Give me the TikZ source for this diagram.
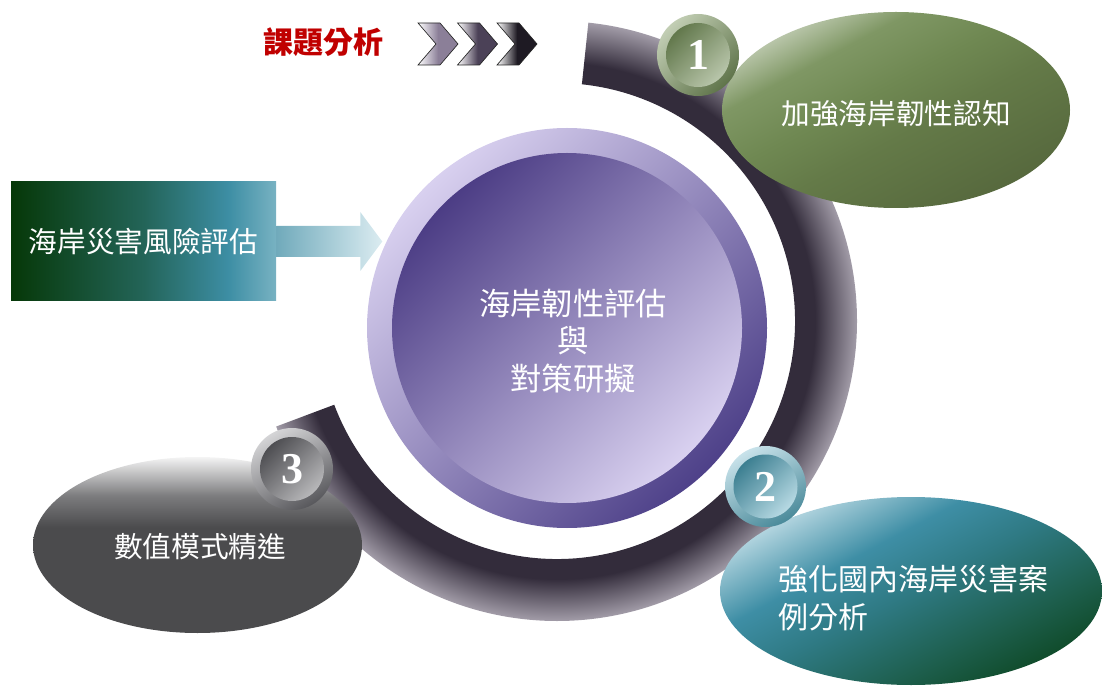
\documentclass[tikz,border=0pt]{standalone}
\usepackage{fontspec}
\newfontfamily\cjk{Noto Sans CJK TC}
\newfontfamily\numfont{Liberation Serif}
\usetikzlibrary{calc}
\definecolor{ringdark}{HTML}{332C3B}
\definecolor{ringlight}{HTML}{A29CA8}
\definecolor{pOl}{HTML}{D8D0EF}
\definecolor{pOd}{HTML}{4E4189}
\definecolor{pId}{HTML}{4C3D85}
\definecolor{pIl}{HTML}{D9D1F0}
\definecolor{c1l}{HTML}{C2CEB4}
\definecolor{c1d}{HTML}{5F744A}
\definecolor{c1id}{HTML}{62784C}
\definecolor{c1il}{HTML}{B9C6AB}
\definecolor{c2l}{HTML}{C8E2EA}
\definecolor{c2d}{HTML}{4A8A9A}
\definecolor{c2id}{HTML}{3C7F91}
\definecolor{c2il}{HTML}{B8DAE4}
\definecolor{c3l}{HTML}{D4D4D6}
\definecolor{c3d}{HTML}{58585C}
\definecolor{c3id}{HTML}{4E4E52}
\definecolor{c3il}{HTML}{B8B8BA}
\definecolor{glight}{HTML}{CDD6C2}
\definecolor{gup}{HTML}{7F9764}
\definecolor{gmid}{HTML}{6F8852}
\definecolor{glow}{HTML}{647A48}
\definecolor{gdark}{HTML}{56683D}
\definecolor{tlight}{HTML}{CCE4EC}
\definecolor{tband}{HTML}{3E8EA5}
\definecolor{tmid}{HTML}{2F7A84}
\definecolor{tlow}{HTML}{1D5E4C}
\definecolor{tdark}{HTML}{0F4A28}
\definecolor{gy1}{HTML}{F4F4F4}
\definecolor{gy2}{HTML}{7C7C7E}
\definecolor{gy3}{HTML}{4B4B4D}
\definecolor{bx1}{HTML}{063808}
\definecolor{bx2}{HTML}{236458}
\definecolor{bx3}{HTML}{3D8EA4}
\definecolor{bx4}{HTML}{78B2C2}
\definecolor{ar1}{HTML}{70AABB}
\definecolor{ar2}{HTML}{DBECF1}
\definecolor{cv1}{HTML}{8B7F98}
\definecolor{cv2}{HTML}{4B4157}
\definecolor{cv3}{HTML}{1E1A23}
\definecolor{titlered}{HTML}{C00000}
\pgfdeclareradialshading{ringshade}{\pgfpoint{0bp}{0bp}}{color(0bp)=(ringdark); color(21.5bp)=(ringdark); color(25bp)=(ringlight); color(50bp)=(ringlight)}
\pgfdeclarehorizontalshading{boxshade}{100bp}{color(0bp)=(bx1); color(25bp)=(bx1); color(50bp)=(bx2); color(66bp)=(bx3); color(75bp)=(bx4); color(100bp)=(bx4)}
\pgfdeclareverticalshading{greenshade}{100bp}{color(0bp)=(gdark); color(25bp)=(gdark); color(45bp)=(glow); color(55bp)=(gmid); color(66bp)=(gup); color(77bp)=(glight); color(100bp)=(glight)}
\pgfdeclareverticalshading{tealshade}{100bp}{color(0bp)=(tdark); color(25bp)=(tdark); color(35bp)=(tlow); color(50bp)=(tmid); color(61bp)=(tband); color(77bp)=(tlight); color(100bp)=(tlight)}
\pgfdeclareverticalshading{greyshade}{100bp}{color(0bp)=(gy3); color(25bp)=(gy3); color(55bp)=(gy3); color(64bp)=(gy2); color(75bp)=(gy1); color(100bp)=(gy1)}
\tikzset{
  wtext/.style={text=white, inner sep=0pt, font=\cjk\fontsize{21.5}{26}\selectfont},
  numtext/.style={text=white, inner sep=0pt, font=\numfont\bfseries\fontsize{33}{36}\selectfont},
  chev/.style={draw=black!85, line width=0.5pt, left color=white, right color=#1, middle color=#1},
}
\begin{document}
\begin{tikzpicture}[x=0.75pt,y=0.75pt]
\path[use as bounding box] (0,0) rectangle (1102,686);
\coordinate (rc) at (557,365);
\coordinate (pc) at (567,358);
% dark ring arc
\begin{scope}
\clip (rc) ++(84:300) arc[start angle=84,end angle=-159.4,radius=300]
  -- ($(rc)+(-159.4:238)$) arc[start angle=-159.4,end angle=84,radius=238] -- cycle;
\shade[shading=ringshade] (rc) circle (300);
\end{scope}
% central disc
\shade[top color=pOl, bottom color=pOd, shading angle=45] (pc) circle (200);
\shade[top color=pId, bottom color=pIl, shading angle=45] (pc) circle (175);
\node[wtext, font=\cjk\fontsize{23.5}{29}\selectfont, align=center] (core) at (573,345) {海岸韌性評估\\[-1pt]與\\[-1pt]對策研擬};
% ellipses
\shade[shading=greenshade, shading angle=28] (896,576) ellipse[x radius=174, y radius=98];
\shade[shading=tealshade, shading angle=28] (911,95) ellipse[x radius=191, y radius=94];
\shade[shading=greyshade] (197.5,141) ellipse[x radius=164.5, y radius=88];
\node[wtext] (t1) at (896,572) {加強海岸韌性認知};
\node[wtext, font=\cjk\fontsize{22.5}{28}\selectfont, align=left, anchor=west] (t2) at (778,88) {強化國內海岸災害案\\例分析};
\node[wtext] (t3) at (200,139) {數值模式精進};
% numbered badges
\shade[top color=c1l, bottom color=c1d, shading angle=45] (698,631) circle (41);
\shade[top color=c1id, bottom color=c1il, shading angle=45] (698,631) circle (32);
\node[numtext] (n1) at (698,631) {1};
\shade[top color=c2l, bottom color=c2d, shading angle=30] (765.5,199.5) circle (40.5);
\shade[top color=c2id, bottom color=c2il, shading angle=45] (765.5,199.5) circle (32);
\node[numtext] (n2) at (765.5,199.5) {2};
\shade[top color=c3l, bottom color=c3d, shading angle=30] (292,217) circle (41);
\shade[top color=c3id, bottom color=c3il, shading angle=45] (292,217) circle (32);
\node[numtext] (n3) at (292,217) {3};
% left box and block arrow
\node[shading=boxshade, minimum width=198.75pt, minimum height=89.25pt, inner sep=0pt,
      text=white, font=\cjk\fontsize{21.5}{26}\selectfont] (box) at (143.5,444.5) {海岸災害風險評估};
\shade[left color=ar1, right color=ar2]
  ($(box.east)+(0,-15.5)$) -- ++(84,0) -- ++(0,-14) -- ++(22,29.5) -- ++(-22,29.5) -- ++(0,-14) -- ($(box.east)+(0,15.5)$) -- cycle;
% title and chevrons
\node[inner sep=0pt, text=titlered, font=\cjk\bfseries\fontsize{22.5}{26}\selectfont] (title) at (323,644) {課題分析};
\foreach \xo/\c in {418/cv1,457.5/cv2,497/cv3}{
  \shadedraw[chev=\c] (\xo,663) -- ++(22,0) -- ++(18,-21) -- ++(-18,-21) -- ++(-22,0) -- ++(18,21) -- cycle;
}
\end{tikzpicture}
\end{document}
